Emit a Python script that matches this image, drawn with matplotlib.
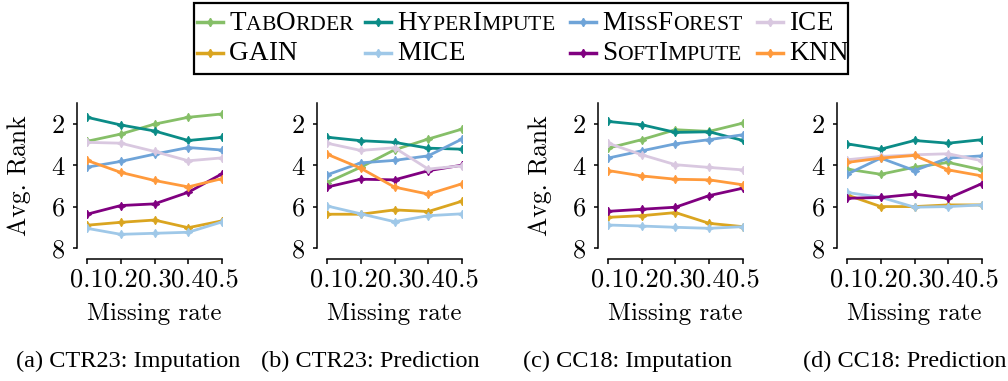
import matplotlib
matplotlib.use("Agg")
import matplotlib.pyplot as plt
from matplotlib.lines import Line2D
from matplotlib.patches import Rectangle
from matplotlib.offsetbox import TextArea, HPacker, AnnotationBbox

plt.rcParams['axes.unicode_minus'] = False

# data: average rank per missing rate
rates = [0.1, 0.2, 0.3, 0.4, 0.5]
methods = ["TabOrder", "GAIN", "HyperImpute", "MICE",
           "MissForest", "SoftImpute", "ICE", "KNN"]
colors = ["#86bf68", "#daa520", "#0b8c87", "#9fc8e8",
          "#6fa4d8", "#800080", "#d9c8e0", "#ff9a3c"]

ctr23_imp = {
    "TabOrder":    [2.85, 2.50, 2.02, 1.69, 1.53],
    "GAIN":        [6.90, 6.76, 6.65, 7.02, 6.69],
    "HyperImpute": [1.69, 2.06, 2.35, 2.81, 2.66],
    "MICE":        [7.05, 7.34, 7.29, 7.24, 6.74],
    "MissForest":  [4.10, 3.82, 3.47, 3.15, 3.27],
    "SoftImpute":  [6.37, 5.95, 5.87, 5.31, 4.42],
    "ICE":         [2.90, 2.94, 3.34, 3.79, 3.65],
    "KNN":         [3.77, 4.35, 4.74, 5.05, 4.65],
}
ctr23_pred = {
    "TabOrder":    [4.84, 4.10, 3.26, 2.74, 2.26],
    "GAIN":        [6.37, 6.37, 6.16, 6.24, 5.74],
    "HyperImpute": [2.65, 2.82, 2.90, 3.18, 3.23],
    "MICE":        [5.97, 6.35, 6.73, 6.44, 6.35],
    "MissForest":  [4.47, 3.89, 3.77, 3.55, 2.74],
    "SoftImpute":  [5.06, 4.68, 4.71, 4.27, 4.00],
    "ICE":         [2.94, 3.29, 3.16, 4.19, 4.03],
    "KNN":         [3.47, 4.15, 5.06, 5.40, 4.90],
}
cc18_imp = {
    "TabOrder":    [3.18, 2.77, 2.29, 2.37, 1.97],
    "GAIN":        [6.52, 6.44, 6.29, 6.81, 6.97],
    "HyperImpute": [1.89, 2.05, 2.42, 2.39, 2.81],
    "MICE":        [6.89, 6.94, 7.00, 7.05, 6.97],
    "MissForest":  [3.66, 3.31, 2.97, 2.77, 2.53],
    "SoftImpute":  [6.23, 6.13, 6.03, 5.47, 5.11],
    "ICE":         [2.94, 3.50, 3.98, 4.11, 4.23],
    "KNN":         [4.26, 4.52, 4.68, 4.71, 4.95],
}
cc18_pred = {
    "TabOrder":    [4.19, 4.44, 4.10, 3.87, 4.23],
    "GAIN":        [5.44, 6.00, 6.00, 5.92, 5.92],
    "HyperImpute": [2.97, 3.23, 2.81, 2.94, 2.77],
    "MICE":        [5.32, 5.55, 6.03, 6.00, 5.92],
    "MissForest":  [4.44, 3.66, 4.26, 3.66, 3.55],
    "SoftImpute":  [5.60, 5.56, 5.40, 5.60, 4.89],
    "ICE":         [3.74, 3.58, 3.50, 3.45, 3.79],
    "KNN":         [3.87, 3.66, 3.53, 4.23, 4.52],
}
panels = [ctr23_imp, ctr23_pred, cc18_imp, cc18_pred]
captions = ["(a) CTR23: Imputation", "(b) CTR23: Prediction",
            "(c) CC18: Imputation", "(d) CC18: Prediction"]

W, H = 1008, 381
fig = plt.figure(figsize=(W / 100, H / 100), dpi=100)

axfont = 'cmr10'
capfont = 'Liberation Serif'
marker = (4, 1, 0)

lefts = [87, 327, 608, 847]
caption_x = [128, 370, 628, 905]
for i, data in enumerate(panels):
    x0 = lefts[i]
    ax = fig.add_axes([x0 / W, 1 - 248 / H, 135 / W, 145 / H])
    for m, c in zip(methods, colors):
        ax.plot(rates, data[m], color=c, lw=2, marker=marker, ms=6, mew=0.8)
    ax.set_xlim(0.1, 0.5)
    ax.set_ylim(8, 1)
    ax.set_yticks([2, 4, 6, 8])
    ax.set_xticks(rates)
    ax.set_xticklabels([str(r) for r in rates])
    for s in ['top', 'right']:
        ax.spines[s].set_visible(False)
    ax.spines['left'].set_position(('outward', 7))
    ax.spines['bottom'].set_position(('outward', 8))
    for s in ['left', 'bottom']:
        ax.spines[s].set_linewidth(1.1)
    ax.tick_params(axis='x', length=3.5, width=1.1, pad=3, labelsize=19)
    ax.tick_params(axis='y', length=3, width=1.1, pad=6, labelsize=19)
    for lab in ax.get_xticklabels() + ax.get_yticklabels():
        lab.set_fontfamily(axfont)
    ax.set_xlabel("Missing rate", fontsize=18, family=axfont, labelpad=8)
    if i in (0, 2):
        ax.set_ylabel("Avg. Rank", fontsize=18.5, family=axfont, labelpad=15)
    fig.text(caption_x[i] / W, 1 - 361 / H, captions[i], ha='center', va='center',
             fontsize=17.5, family=capfont)

# legend box with small caps labels, built by hand
fig.patches.append(Rectangle((194 / W, 1 - 74 / H), (848 - 194) / W, 71 / H,
                             transform=fig.transFigure, fill=False,
                             edgecolor='black', lw=1.6))

col_x = [197, 365, 570, 757]
row_y = [22, 53]
legend_order = [["TabOrder", "HyperImpute", "MissForest", "ICE"],
                ["GAIN", "MICE", "SoftImpute", "KNN"]]


def small_caps(label, size):
    parts = []
    for ch in label:
        if ch.islower():
            parts.append(TextArea(ch.upper(), textprops=dict(fontsize=size * 0.8, family=capfont)))
        else:
            parts.append(TextArea(ch, textprops=dict(fontsize=size, family=capfont)))
    return HPacker(children=parts, align="baseline", pad=0, sep=0)


for r, row in enumerate(legend_order):
    for c, name in enumerate(row):
        col = colors[methods.index(name)]
        xh = col_x[c]
        yh = H - row_y[r]
        fig.add_artist(Line2D([xh / W, (xh + 26) / W], [yh / H, yh / H],
                              transform=fig.transFigure, color=col, lw=2.5))
        fig.add_artist(Line2D([(xh + 13) / W], [yh / H], transform=fig.transFigure,
                              color=col, marker=marker, ms=6, lw=0))
        box = small_caps(name, 19.5)
        ab = AnnotationBbox(box, (xh + 32, yh - 1), xycoords='figure pixels',
                            box_alignment=(0, 0.5), frameon=False, pad=0)
        fig.add_artist(ab)

fig.savefig("out.png", dpi=100)
